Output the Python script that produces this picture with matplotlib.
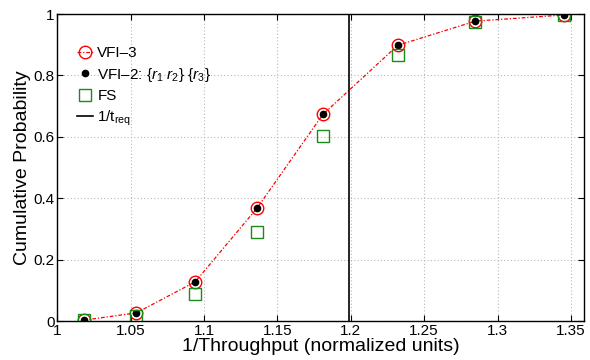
import matplotlib
matplotlib.use("Agg")
import matplotlib.pyplot as plt
import numpy as np

plt.rcParams['font.family'] = ['Liberation Sans', 'DejaVu Sans']
plt.rcParams['mathtext.fontset'] = 'custom'
plt.rcParams['mathtext.rm'] = 'Liberation Sans'
plt.rcParams['mathtext.it'] = 'Liberation Sans:italic'

# data
inv_tp = [1.018, 1.054, 1.094, 1.136, 1.181, 1.232, 1.285, 1.3455]
vfi3 = [0.003, 0.027, 0.128, 0.367, 0.673, 0.898, 0.977, 0.997]
vfi2 = [0.003, 0.027, 0.128, 0.367, 0.673, 0.898, 0.977, 0.997]
fs = [0.003, 0.016, 0.087, 0.291, 0.604, 0.866, 0.973, 0.997]
t_req_inv = 1.199

xticks = [1, 1.05, 1.1, 1.15, 1.2, 1.25, 1.3, 1.35]
xticklabels = ['1', '1.05', '1.1', '1.15', '1.2', '1.25', '1.3', '1.35']
yticks = [0, 0.2, 0.4, 0.6, 0.8, 1]
yticklabels = ['0', '0.2', '0.4', '0.6', '0.8', '1']

fig = plt.figure(figsize=(5.9, 3.6), dpi=100)
ax = fig.add_axes([0.097, 0.108, 0.893, 0.853])

ax.plot(inv_tp, vfi3, color='red', linestyle=(0, (3, 1.5, 1, 1.5)), linewidth=0.9,
        marker='o', markersize=9, markerfacecolor='none', markeredgecolor='red',
        markeredgewidth=1.0, label='VFI\u20133')
ax.plot(inv_tp, vfi2, linestyle='none', marker='o', markersize=4.5,
        color='black', label='VFI\u20132: ' + r'$\{r_1\ r_2\}\ \{r_3\}$')
ax.plot(inv_tp, fs, linestyle='none', marker='s', markersize=8,
        markerfacecolor='none', markeredgecolor='#1a8a1a', markeredgewidth=1.0,
        label='FS')
ax.axvline(t_req_inv, color='black', linewidth=1.2, label=r'1/t$_{\mathrm{req}}$')

ax.set_xlim(1, 1.359)
ax.set_ylim(0, 1)
ax.set_xticks(xticks)
ax.set_xticklabels(xticklabels)
ax.set_yticks(yticks)
ax.set_yticklabels(yticklabels)
ax.tick_params(direction='in', top=True, right=True, labelsize=11, length=4, pad=2)
ax.grid(True, linestyle=(0, (1, 2)), color='#b8b8b8', linewidth=0.8)
for s in ax.spines.values():
    s.set_linewidth(1.0)

ax.set_xlabel('1/Throughput (normalized units)', fontsize=14, labelpad=0)
ax.set_ylabel('Cumulative Probability', fontsize=14, labelpad=2)

ax.legend(loc='upper left', bbox_to_anchor=(0.018, 0.93), frameon=False, fontsize=11,
          handlelength=1.05, handletextpad=0.25, labelspacing=0.35, borderaxespad=0.3)

fig.savefig('out.png', dpi=100)
